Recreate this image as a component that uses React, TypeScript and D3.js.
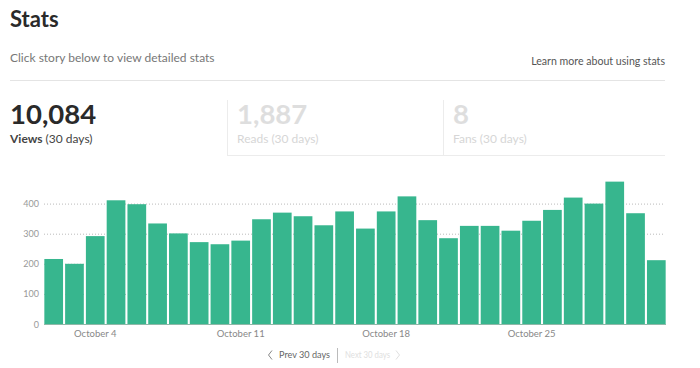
import React from "react";
import * as d3 from "d3";

const days = d3.range(2, 32).map((d) => `October ${d}`);
const views = [216, 200, 292, 411, 398, 334, 301, 272, 265, 277, 348, 370, 358, 328, 374, 317, 374, 424, 345, 285, 326, 326, 310, 343, 379, 420, 400, 473, 368, 212];
const yTicks = [0, 100, 200, 300, 400];
const xTickLabels = ["October 4", "October 11", "October 18", "October 25"];

const W = 700;
const H = 368;
const FONT = "Lato, 'Open Sans', sans-serif";
const GREEN = "#37b68e";

export default function App() {
  const x = d3.scaleBand<string>().domain(days).range([43.3, 666.7]).paddingInner(0.1).paddingOuter(0.05);
  const y = d3.scaleLinear().domain([0, 400]).range([324, 203.6]);

  return (
    <svg width={W} height={H} style={{ position: "absolute", left: 0, top: 0, background: "#fff" }} fontFamily={FONT}>
      <rect width={W} height={H} fill="#fff" />
      <text x={10} y={27} fontSize={22} fontWeight={700} fill="#2a2a2a">Stats</text>
      <text x={10} y={62} fontSize={12} fill="#777">Click story below to view detailed stats</text>
      <text x={665} y={65} fontSize={10.6} fill="#555" textAnchor="end">Learn more about using stats</text>
      <line x1={10} x2={665} y1={80.5} y2={80.5} stroke="#e4e4e4" />

      <text x={10} y={124} fontSize={27.5} fontWeight={700} fill="#2a2a2a">10,084</text>
      <text x={10} y={143} fontSize={12} fill="#444">
        <tspan fontWeight={700}>Views</tspan> (30 days)
      </text>

      <line x1={227.5} x2={227.5} y1={100} y2={155} stroke="#ececec" />
      <line x1={227} x2={665} y1={155.5} y2={155.5} stroke="#ececec" />
      <line x1={443.5} x2={443.5} y1={100} y2={155} stroke="#ececec" />
      <text x={237} y={124} fontSize={27.5} fontWeight={700} fill="#dedede">1,887</text>
      <text x={237} y={143} fontSize={12} fill="#d6d6d6">Reads (30 days)</text>
      <text x={453} y={124} fontSize={27.5} fontWeight={700} fill="#dedede">8</text>
      <text x={453} y={143} fontSize={12} fill="#d6d6d6">Fans (30 days)</text>

      {yTicks.map((t) => (
        <g key={t}>
          {t > 0 && (
            <line x1={44} x2={664} y1={y(t) + 0.5} y2={y(t) + 0.5} stroke="#bbb" strokeDasharray="1,2" />
          )}
          <text x={39} y={y(t) + 3.5} fontSize={9} fill="#999" textAnchor="end">{t}</text>
        </g>
      ))}

      {days.map((d, i) => (
        <rect key={d} x={x(d)} y={y(views[i])} width={x.bandwidth()} height={y(0) - y(views[i])} fill={GREEN} />
      ))}
      <line x1={44} x2={666} y1={324.5} y2={324.5} stroke="#8fb8a8" />

      {xTickLabels.map((lab) => (
        <text key={lab} x={(x(lab) ?? 0) + x.bandwidth() / 2} y={337} fontSize={9.5} fill="#888" textAnchor="middle">{lab}</text>
      ))}

      <path d="M272,350.5 L268.5,355 L272,359.5" fill="none" stroke="#888" strokeWidth={1} />
      <text x={279} y={358} fontSize={10} fill="#666" textLength={51} lengthAdjust="spacingAndGlyphs">Prev 30 days</text>
      <line x1={337.5} x2={337.5} y1={348} y2={363} stroke="#bbb" />
      <text x={345} y={358} fontSize={10} fill="#e0e0e0" textLength={45} lengthAdjust="spacingAndGlyphs">Next 30 days</text>
      <path d="M396,350.5 L399.5,355 L396,359.5" fill="none" stroke="#e0e0e0" strokeWidth={1} />
    </svg>
  );
}
